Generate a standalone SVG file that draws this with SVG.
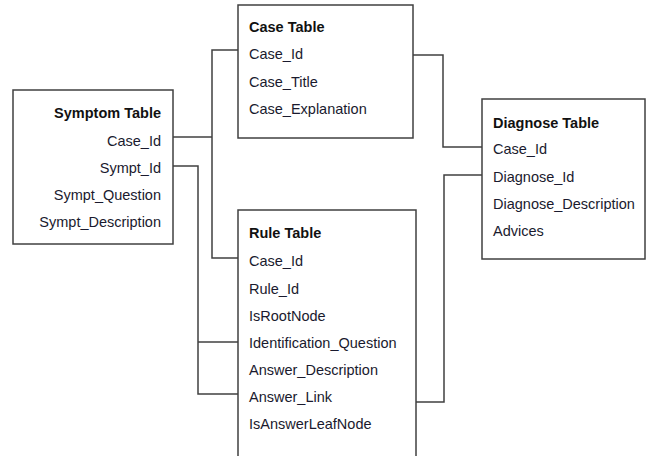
<svg xmlns="http://www.w3.org/2000/svg" width="647" height="456" viewBox="0 0 647 456">
<style>
.box{fill:#fff;stroke:#404040;stroke-width:1.5}
.t{font-family:"Liberation Sans",Arial,sans-serif;font-size:14.5px;fill:#1a1a2e}
.h{font-weight:bold;fill:#111}
.r{text-anchor:end}
.c{fill:none;stroke:#404040;stroke-width:1.5}
</style>
<rect width="647" height="456" fill="#fff"/>
<g id="connectors">
<polyline class="c" points="173,137 212,137"/>
<polyline class="c" points="238,50 212,50 212,258 238,258"/>
<polyline class="c" points="173,166 198,166 198,394 238,394"/>
<polyline class="c" points="198,342 238,342"/>
<polyline class="c" points="413,55 443,55 443,147 482,147"/>
<polyline class="c" points="482,175 444,175 444,402 416,402"/>
</g>
<g id="symptom">
<rect class="box" x="13" y="90" width="160" height="154"/>
<text class="t h r" x="161" y="118">Symptom Table</text>
<text class="t r" x="161" y="146">Case_Id</text>
<text class="t r" x="161" y="173">Sympt_Id</text>
<text class="t r" x="161" y="200">Sympt_Question</text>
<text class="t r" x="161" y="227">Sympt_Description</text>
</g>
<g id="case">
<rect class="box" x="238" y="5" width="175" height="133"/>
<text class="t h" x="249" y="32">Case Table</text>
<text class="t" x="249" y="59">Case_Id</text>
<text class="t" x="249" y="87">Case_Title</text>
<text class="t" x="249" y="114">Case_Explanation</text>
</g>
<g id="diagnose">
<rect class="box" x="482" y="99" width="163" height="160"/>
<text class="t h" x="493" y="128">Diagnose Table</text>
<text class="t" x="493" y="154">Case_Id</text>
<text class="t" x="493" y="182">Diagnose_Id</text>
<text class="t" x="493" y="209">Diagnose_Description</text>
<text class="t" x="493" y="236">Advices</text>
</g>
<g id="rule">
<rect class="box" x="238" y="210" width="178" height="260"/>
<text class="t h" x="249" y="238">Rule Table</text>
<text class="t" x="249" y="266">Case_Id</text>
<text class="t" x="249" y="294">Rule_Id</text>
<text class="t" x="249" y="321">IsRootNode</text>
<text class="t" x="249" y="348">Identification_Question</text>
<text class="t" x="249" y="375">Answer_Description</text>
<text class="t" x="249" y="402">Answer_Link</text>
<text class="t" x="249" y="429">IsAnswerLeafNode</text>
</g>
</svg>
